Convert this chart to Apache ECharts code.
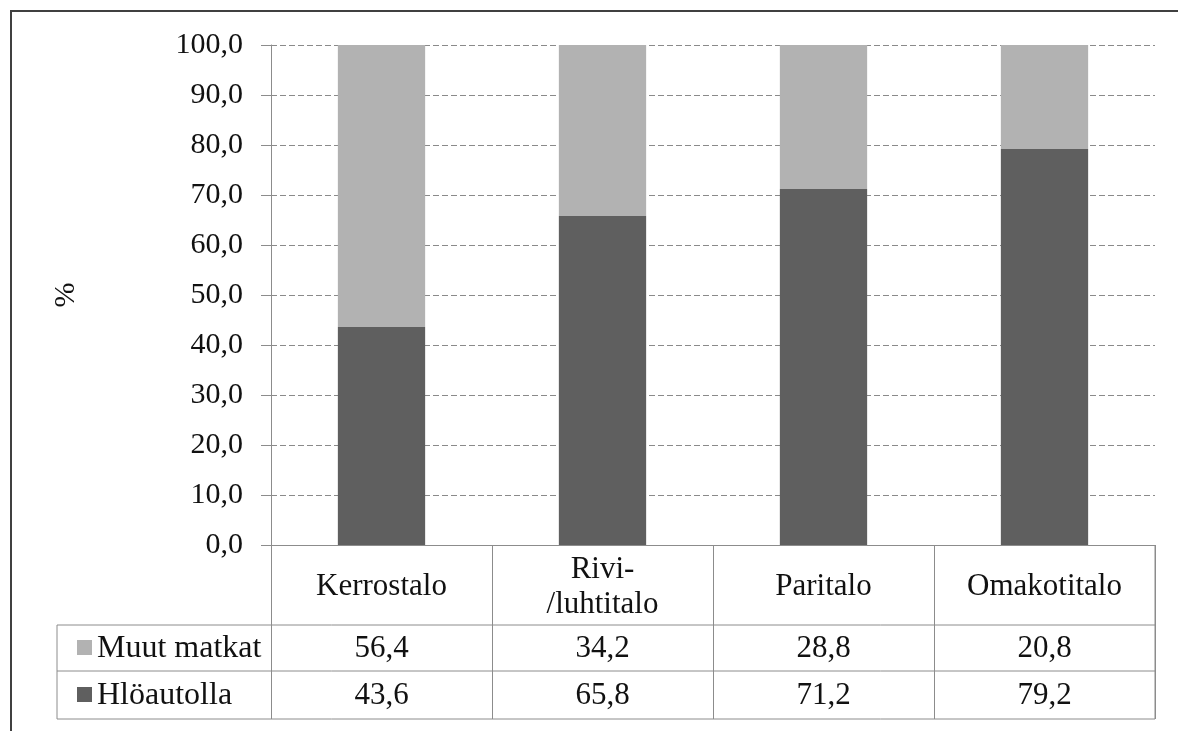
<!DOCTYPE html>
<html><head><meta charset="utf-8">
<script src="https://cdn.jsdelivr.net/npm/echarts@6/dist/echarts.min.js"></script>
<style>html,body{margin:0;padding:0;background:#fff}#c{width:1178px;height:731px}</style>
</head><body><div id="c"></div>
<script>
const categories = ['Kerrostalo', 'Rivi-\n/luhtitalo', 'Paritalo', 'Omakotitalo'];
const seriesNames = ['Hlöautolla', 'Muut matkat'];
const hloautolla = [43.6, 65.8, 71.2, 79.2];
const muutMatkat = [56.4, 34.2, 28.8, 20.8];
const yTicks = [0, 10, 20, 30, 40, 50, 60, 70, 80, 90, 100];

const DARK = '#5f5f5f', LIGHT = '#b2b2b2', LINE = '#8c8c8c', TXT = '#111';
const FONT = '"Liberation Serif", "Times New Roman", serif';
const fmt = v => v.toFixed(1).replace('.', ',');

const G = {left: 271, right: 1155, top: 45, bottom: 545};
const tableLeft = 57, rowY = [545, 625, 671, 719];

const chart = echarts.init(document.getElementById('c'), null, {renderer: 'canvas'});
chart.setOption({
  animation: false,
  backgroundColor: '#fff',
  grid: {left: G.left, right: 1178 - G.right, top: G.top, bottom: 731 - G.bottom, containLabel: false},
  xAxis: {
    type: 'category', data: categories,
    axisLine: {show: true, lineStyle: {color: LINE, width: 1}},
    axisTick: {show: true, length: rowY[3] - rowY[0], lineStyle: {color: LINE}},
    axisLabel: {color: TXT, fontFamily: FONT, fontSize: 31, lineHeight: 35, verticalAlign: 'middle', margin: 42}
  },
  yAxis: {
    type: 'value', min: 0, max: 100, interval: 10,
    name: '%', nameLocation: 'middle', nameRotate: 90, nameGap: 190,
    nameTextStyle: {color: TXT, fontFamily: FONT, fontSize: 30},
    axisLine: {show: true, lineStyle: {color: LINE}},
    axisTick: {show: true, length: 10, lineStyle: {color: LINE}},
    axisLabel: {color: TXT, fontFamily: FONT, fontSize: 30, margin: 28, formatter: v => fmt(v)},
    splitLine: {show: true, lineStyle: {color: '#8a8a8a', type: [6, 3], width: 1}}
  },
  series: [
    {name: seriesNames[0], type: 'bar', stack: 's', data: hloautolla, barWidth: '39.5%', itemStyle: {color: DARK}},
    {name: seriesNames[1], type: 'bar', stack: 's', data: muutMatkat, barWidth: '39.5%', itemStyle: {color: LIGHT}}
  ]
});

// data table below the axis
const g = [];
g.push({type: 'rect', shape: {x: 11, y: 11, width: 1190, height: 740}, style: {fill: null, stroke: '#404040', lineWidth: 2}, silent: true, z: 100});
[1, 2, 3].forEach(i => g.push({type: 'line', shape: {x1: tableLeft, y1: rowY[i], x2: G.right, y2: rowY[i]}, style: {stroke: LINE, lineWidth: 1}, z: 50}));
g.push({type: 'line', shape: {x1: tableLeft, y1: rowY[1], x2: tableLeft, y2: rowY[3]}, style: {stroke: LINE, lineWidth: 1}, z: 50});
g.push({type: 'line', shape: {x1: G.right, y1: rowY[0], x2: G.right, y2: rowY[3]}, style: {stroke: LINE, lineWidth: 1}, z: 50});
const rows = [{name: seriesNames[1], vals: muutMatkat, color: LIGHT}, {name: seriesNames[0], vals: hloautolla, color: DARK}];
rows.forEach((r, ri) => {
  const cy = (rowY[ri + 1] + rowY[ri + 2]) / 2;
  g.push({type: 'rect', shape: {x: 77, y: cy - 8, width: 15, height: 15}, style: {fill: r.color}, z: 50});
  g.push({type: 'text', x: 97, y: cy + 1, style: {text: r.name, fill: TXT, font: '32px ' + FONT, align: 'left', verticalAlign: 'middle'}, z: 50});
  r.vals.forEach((v, ci) => {
    const px = chart.convertToPixel({xAxisIndex: 0}, ci);
    g.push({type: 'text', x: px, y: cy + 1, style: {text: fmt(v), fill: TXT, font: '31px ' + FONT, align: 'center', verticalAlign: 'middle'}, z: 50});
  });
});
chart.setOption({graphic: g});
</script></body></html>
